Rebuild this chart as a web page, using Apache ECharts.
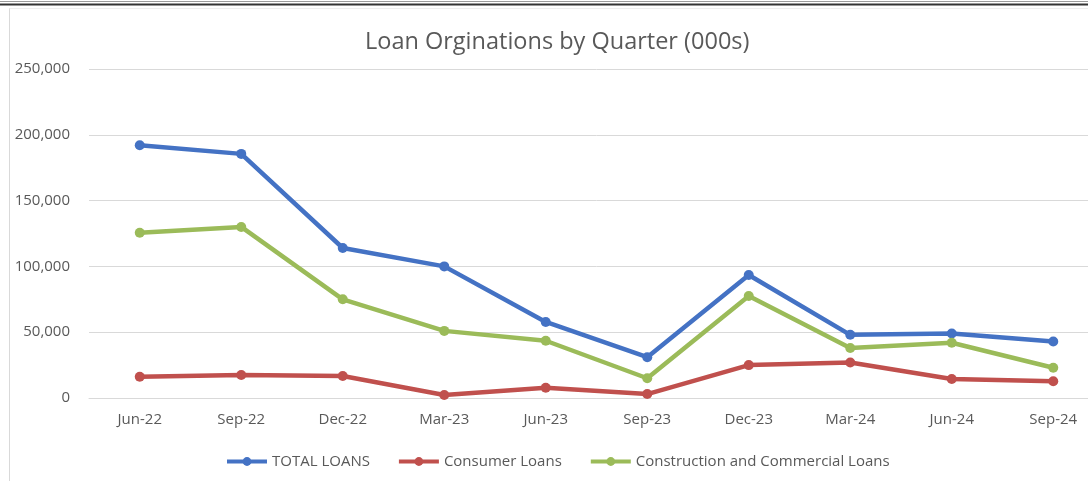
<!DOCTYPE html>
<html>
<head>
<meta charset="utf-8">
<script src="https://cdn.jsdelivr.net/npm/echarts@6/dist/echarts.min.js"></script>
<style>
    html, body { margin: 0; padding: 0; background: #fff; overflow: hidden; }
    /* the source chart runs a little past the right edge of the picture */
    #chart { width: 1104px; height: 481px; }
</style>
</head>
<body>
<div id="chart"></div>
<script>
const quarters = ["Jun-22", "Sep-22", "Dec-22", "Mar-23", "Jun-23", "Sep-23", "Dec-23", "Mar-24", "Jun-24", "Sep-24"]
const totalLoans = [192000, 185500, 114000, 100000, 57800, 31000, 93500, 48000, 49000, 43000]
const consumerLoans = [16200, 17500, 16700, 2300, 7800, 3000, 25000, 27000, 14400, 12700]
const commercialLoans = [125600, 130000, 75000, 51000, 43500, 15000, 77500, 38000, 42000, 23000]

const labelColor = "#595959"
const fontFamily = "'Open Sans', 'Noto Sans', sans-serif"

function lineSeries(name, data, color) {
    return {
        name: name,
        type: "line",
        data: data,
        symbol: "circle",
        symbolSize: 10,
        color: color,
        lineStyle: { width: 4.5, color: color },
        itemStyle: { color: color },
        animation: false,
    }
}

let chart = echarts.init(document.getElementById("chart"), null, { renderer: "canvas" })
let option = {
    backgroundColor: "#fff",
    textStyle: { fontFamily: fontFamily },
    title: {
        text: "Loan Orginations by Quarter (000s)",
        left: 360,
        top: 25,
        textStyle: { fontSize: 23.5, fontWeight: "normal", color: labelColor, fontFamily: fontFamily },
    },
    grid: { left: 89, top: 69, right: 0, height: 329, containLabel: false },
    legend: {
        top: 449,
        left: 220,
        itemWidth: 40,
        itemHeight: 11,
        itemGap: 27,
        lineStyle: { width: 4 },
        textStyle: { fontSize: 15, color: labelColor, fontFamily: fontFamily },
        data: ["TOTAL LOANS", "Consumer Loans", "Construction and Commercial Loans"],
    },
    xAxis: {
        type: "category",
        data: quarters,
        boundaryGap: true,
        axisLine: { lineStyle: { color: "#d9d9d9" } },
        axisTick: { show: false },
        axisLabel: { color: labelColor, fontSize: 15, margin: 14 },
    },
    yAxis: {
        type: "value",
        min: 0,
        max: 250000,
        interval: 50000,
        axisLine: { show: false },
        axisTick: { show: false },
        splitLine: { lineStyle: { color: "#d9d9d9" } },
        axisLabel: {
            color: labelColor,
            fontSize: 15,
            margin: 19,
            formatter: (v) => v.toLocaleString("en-US"),
        },
    },
    graphic: [
        { type: "line", shape: { x1: 0, y1: 1.5, x2: 1104, y2: 1.5 }, style: { stroke: "#9a9a9a", lineWidth: 1 } },
        { type: "line", shape: { x1: 0, y1: 4.5, x2: 1104, y2: 4.5 }, style: { stroke: "#333", lineWidth: 2 } },
        { type: "line", shape: { x1: 9.5, y1: 8, x2: 9.5, y2: 481 }, style: { stroke: "#d9d9d9", lineWidth: 1 } },
        { type: "line", shape: { x1: 9.5, y1: 8.5, x2: 1104, y2: 8.5 }, style: { stroke: "#eeeeee", lineWidth: 1 } },
    ],
    series: [
        lineSeries("TOTAL LOANS", totalLoans, "#4472c4"),
        lineSeries("Consumer Loans", consumerLoans, "#c0504d"),
        lineSeries("Construction and Commercial Loans", commercialLoans, "#9bbb59"),
    ],
}

option && chart.setOption(option)
</script>
</body>
</html>
